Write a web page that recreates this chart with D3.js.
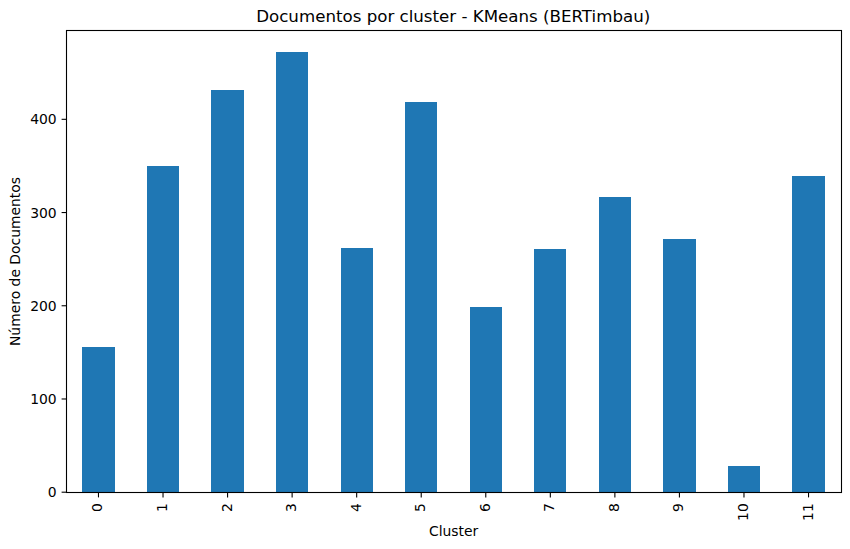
<!DOCTYPE html>
<html>
<head>
<meta charset="utf-8">
<script src="https://cdn.jsdelivr.net/npm/d3@7"></script>
<style>
  html, body { margin: 0; padding: 0; background: #fff; }
  svg { display: block; }
  text { font-family: "DejaVu Sans", sans-serif; fill: #000; }
</style>
</head>
<body>
<svg id="chart" width="850" height="549"></svg>
<script>
const clusters = ["0", "1", "2", "3", "4", "5", "6", "7", "8", "9", "10", "11"];
const documentCounts = [156, 350, 431, 472, 262, 419, 199, 261, 317, 272, 28, 339];
const yTicks = [0, 100, 200, 300, 400];

const svg = d3.select("#chart");
const plotLeft = 66.5, plotRight = 841.5, plotTop = 30.5, plotBottom = 492.5;

// matplotlib snaps bars to whole pixels, so the scales sit slightly inside the frame
const x = d3.scaleBand().domain(clusters).range([66.2, 840.8])
  .paddingInner(0.5).paddingOuter(0.25);
const y = d3.scaleLinear().domain([0, d3.max(documentCounts) * 1.05]).range([492.2, 30.2]);

// Bars
svg.append("g")
  .selectAll("rect")
  .data(clusters)
  .enter()
  .append("rect")
  .attr("x", (d) => Math.round(x(d)))
  .attr("width", (d) => Math.round(x(d) + x.bandwidth()) - Math.round(x(d)))
  .attr("y", (d, i) => Math.round(y(documentCounts[i])))
  .attr("height", (d, i) => 492 - Math.round(y(documentCounts[i])))
  .style("fill", "#1f77b4");

// Axes
const xAxis = svg.append("g")
  .attr("transform", `translate(0, ${plotBottom})`)
  .call(d3.axisBottom(x).tickSize(4.9).tickPadding(4.9).offset(0));
xAxis.select(".domain").remove();
xAxis.selectAll("line").style("stroke", "#000").style("stroke-width", 1.1);
xAxis.selectAll("text")
  .attr("dy", null)
  .attr("y", null)
  .attr("text-anchor", "end")
  .attr("dominant-baseline", "middle")
  .attr("transform", "translate(0, 10.7) rotate(-90)")
  .style("font-size", "13.9px");

const yAxis = svg.append("g")
  .attr("transform", `translate(${plotLeft}, 0)`)
  .call(d3.axisLeft(y).tickValues(yTicks).tickSize(4.9).tickPadding(4.9).offset(0));
yAxis.select(".domain").remove();
yAxis.selectAll("line").style("stroke", "#000").style("stroke-width", 1.1);
yAxis.selectAll("text")
  .attr("transform", "translate(0, 0.7)")
  .style("font-size", "13.9px");

// Frame
svg.append("rect")
  .attr("x", plotLeft)
  .attr("y", plotTop)
  .attr("width", plotRight - plotLeft)
  .attr("height", plotBottom - plotTop)
  .style("fill", "none")
  .style("stroke", "#000")
  .style("stroke-width", 1.1);

// Labels
svg.append("text")
  .attr("x", 453.2)
  .attr("y", 22)
  .attr("text-anchor", "middle")
  .style("font-size", "16.67px")
  .text("Documentos por cluster - KMeans (BERTimbau)");

svg.append("text")
  .attr("x", 453.6)
  .attr("y", 536)
  .attr("text-anchor", "middle")
  .style("font-size", "13.9px")
  .text("Cluster");

svg.append("text")
  .attr("transform", `translate(20, ${(plotTop + plotBottom) / 2}) rotate(-90)`)
  .attr("text-anchor", "middle")
  .style("font-size", "13.9px")
  .text("Número de Documentos");
</script>
</body>
</html>
